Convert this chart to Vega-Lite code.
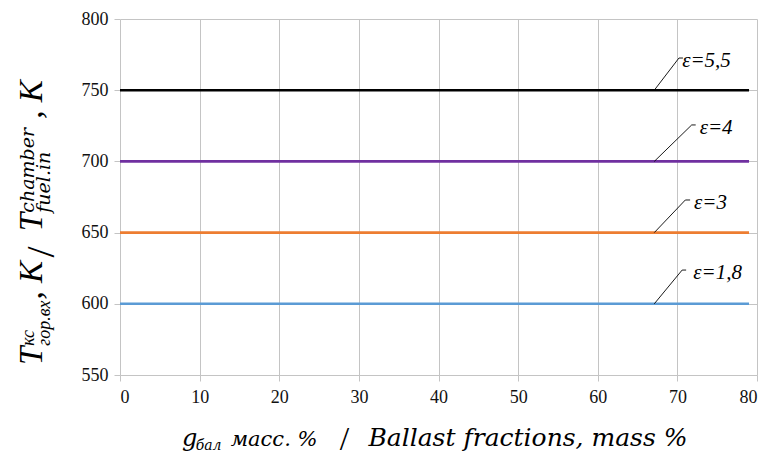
{
  "$schema": "https://vega.github.io/schema/vega-lite/v6.json",
  "width": 637,
  "height": 356,
  "autosize": {"type": "none"},
  "padding": {"left": 120, "top": 19, "right": 11, "bottom": 84},
  "background": "white",
  "config": {
    "view": {"stroke": null},
    "axis": {
      "labelFont": "Times New Roman",
      "labelFontSize": 18,
      "labelColor": "#111111",
      "gridColor": "#c4c4c4",
      "domainColor": "#c4c4c4",
      "tickColor": "#c4c4c4",
      "tickSize": 6
    },
    "text": {"font": "Liberation Serif", "color": "#000000"}
  },
  "layer": [
    {
      "data": {"values": [
        {"eps": "1,8", "x": 0, "T": 600}, {"eps": "1,8", "x": 79, "T": 600},
        {"eps": "3", "x": 0, "T": 650}, {"eps": "3", "x": 79, "T": 650},
        {"eps": "4", "x": 0, "T": 700}, {"eps": "4", "x": 79, "T": 700},
        {"eps": "5,5", "x": 0, "T": 750}, {"eps": "5,5", "x": 79, "T": 750}
      ]},
      "mark": {"type": "line", "strokeWidth": 2.6},
      "encoding": {
        "x": {"field": "x", "type": "quantitative", "scale": {"domain": [0, 80], "nice": false, "zero": false},
              "axis": {"values": [0,10,20,30,40,50,60,70,80], "title": null, "grid": true, "labelPadding": 7, "domain": true,
                       "labelFont": "Times New Roman", "labelFontSize": 18, "labelColor": "#111111"}},
        "y": {"field": "T", "type": "quantitative", "scale": {"domain": [550, 800], "nice": false, "zero": false},
              "axis": {"values": [550,600,650,700,750,800], "title": null, "grid": true, "labelPadding": 6, "domain": false,
                       "labelFont": "Times New Roman", "labelFontSize": 18, "labelColor": "#111111"}},
        "color": {"field": "eps", "type": "nominal", "legend": null,
                  "scale": {"domain": ["1,8","3","4","5,5"], "range": ["#5B9BD5","#ED7D31","#7030A0","#000000"]}},
        "detail": {"field": "eps"}
      }
    },
    {
      "data": {"values": [
        {"eps": "5,5", "x": 67.1, "T": 750}, {"eps": "5,5", "x": 70.2, "T": 772.6}, {"eps": "5,5", "x": 70.7, "T": 772.6},
        {"eps": "4", "x": 67.1, "T": 700}, {"eps": "4", "x": 71.8, "T": 725.6}, {"eps": "4", "x": 72.3, "T": 725.6},
        {"eps": "3", "x": 67.1, "T": 650}, {"eps": "3", "x": 71.0, "T": 672.9}, {"eps": "3", "x": 71.6, "T": 672.9},
        {"eps": "1,8", "x": 67.1, "T": 600}, {"eps": "1,8", "x": 70.6, "T": 623.7}, {"eps": "1,8", "x": 71.1, "T": 623.7}
      ]},
      "mark": {"type": "line", "color": "#000000", "strokeWidth": 0.9},
      "encoding": {
        "x": {"field": "x", "type": "quantitative"},
        "y": {"field": "T", "type": "quantitative"},
        "detail": {"field": "eps"},
        "order": {"field": "x"}
      }
    },
    {
      "data": {"values": [
        {"label": "ε=5,5", "x": 70.6, "T": 770.5},
        {"label": "ε=4", "x": 72.8, "T": 723.5},
        {"label": "ε=3", "x": 72.1, "T": 670.8},
        {"label": "ε=1,8", "x": 72.0, "T": 621.6}
      ]},
      "mark": {"type": "text", "align": "left", "baseline": "middle", "font": "Liberation Serif", "fontStyle": "italic", "fontSize": 21, "color": "#000000"},
      "encoding": {
        "x": {"field": "x", "type": "quantitative"},
        "y": {"field": "T", "type": "quantitative"},
        "text": {"field": "label"}
      }
    },
    {
      "data": {"values": [{}]},
      "mark": {"type": "text", "text": "T", "angle": 270, "align": "left", "baseline": "alphabetic", "font": "Liberation Serif", "fontStyle": "italic", "fontSize": 33, "color": "#000000"},
      "encoding": {"x": {"datum": -9.8, "type": "quantitative"}, "y": {"datum": 557.0, "type": "quantitative"}}
    },
    {
      "data": {"values": [{}]},
      "mark": {"type": "text", "text": "кс", "angle": 270, "align": "left", "baseline": "alphabetic", "font": "Liberation Serif", "fontStyle": "italic", "fontSize": 18, "color": "#000000"},
      "encoding": {"x": {"datum": -10.8, "type": "quantitative"}, "y": {"datum": 570.5, "type": "quantitative"}}
    },
    {
      "data": {"values": [{}]},
      "mark": {"type": "text", "text": "гор.вх", "angle": 270, "align": "left", "baseline": "alphabetic", "font": "Liberation Serif", "fontStyle": "italic", "fontSize": 18, "color": "#000000"},
      "encoding": {"x": {"datum": -8.8, "type": "quantitative"}, "y": {"datum": 570.5, "type": "quantitative"}}
    },
    {
      "data": {"values": [{}]},
      "mark": {"type": "text", "text": ", K", "angle": 270, "align": "left", "baseline": "alphabetic", "font": "Liberation Serif", "fontStyle": "italic", "fontSize": 33, "color": "#000000"},
      "encoding": {"x": {"datum": -9.8, "type": "quantitative"}, "y": {"datum": 603.0, "type": "quantitative"}}
    },
    {
      "data": {"values": [{}]},
      "mark": {"type": "text", "text": "/", "angle": 270, "align": "left", "baseline": "alphabetic", "font": "Liberation Serif", "fontSize": 40, "color": "#000000"},
      "encoding": {"x": {"datum": -8.3, "type": "quantitative"}, "y": {"datum": 632.5, "type": "quantitative"}}
    },
    {
      "data": {"values": [{}]},
      "mark": {"type": "text", "text": "T", "angle": 270, "align": "left", "baseline": "alphabetic", "font": "Liberation Serif", "fontStyle": "italic", "fontSize": 33, "color": "#000000"},
      "encoding": {"x": {"datum": -9.8, "type": "quantitative"}, "y": {"datum": 651.0, "type": "quantitative"}}
    },
    {
      "data": {"values": [{}]},
      "mark": {"type": "text", "text": "chamber", "angle": 270, "align": "left", "baseline": "alphabetic", "font": "DejaVu Serif", "fontStyle": "italic", "fontSize": 19, "color": "#000000"},
      "encoding": {"x": {"datum": -10.8, "type": "quantitative"}, "y": {"datum": 664.0, "type": "quantitative"}}
    },
    {
      "data": {"values": [{}]},
      "mark": {"type": "text", "text": "fuel.in", "angle": 270, "align": "left", "baseline": "alphabetic", "font": "DejaVu Serif", "fontStyle": "italic", "fontSize": 19, "color": "#000000"},
      "encoding": {"x": {"datum": -8.8, "type": "quantitative"}, "y": {"datum": 664.0, "type": "quantitative"}}
    },
    {
      "data": {"values": [{}]},
      "mark": {"type": "text", "text": ", K", "angle": 270, "align": "left", "baseline": "alphabetic", "font": "Liberation Serif", "fontStyle": "italic", "fontSize": 33, "color": "#000000"},
      "encoding": {"x": {"datum": -9.8, "type": "quantitative"}, "y": {"datum": 730.0, "type": "quantitative"}}
    },
    {
      "data": {"values": [{}]},
      "mark": {"type": "text", "text": "g", "align": "left", "baseline": "alphabetic", "font": "DejaVu Serif", "fontStyle": "italic", "fontSize": 24, "color": "#000000"},
      "encoding": {"x": {"datum": 7.8, "type": "quantitative"}, "y": {"datum": 500.1, "type": "quantitative"}}
    },
    {
      "data": {"values": [{}]},
      "mark": {"type": "text", "text": "бал", "align": "left", "baseline": "alphabetic", "font": "DejaVu Serif", "fontStyle": "italic", "fontSize": 14, "color": "#000000"},
      "encoding": {"x": {"datum": 9.5, "type": "quantitative"}, "y": {"datum": 497.3, "type": "quantitative"}}
    },
    {
      "data": {"values": [{}]},
      "mark": {"type": "text", "text": "масс. %", "align": "left", "baseline": "alphabetic", "font": "DejaVu Serif", "fontStyle": "italic", "fontSize": 21, "color": "#000000"},
      "encoding": {"x": {"datum": 13.9, "type": "quantitative"}, "y": {"datum": 500.1, "type": "quantitative"}}
    },
    {
      "data": {"values": [{}]},
      "mark": {"type": "text", "text": "/", "align": "left", "baseline": "alphabetic", "font": "Liberation Serif", "fontSize": 34, "color": "#000000"},
      "encoding": {"x": {"datum": 27.6, "type": "quantitative"}, "y": {"datum": 497.3, "type": "quantitative"}}
    },
    {
      "data": {"values": [{}]},
      "mark": {"type": "text", "text": "Ballast fractions, mass %", "align": "left", "baseline": "alphabetic", "font": "DejaVu Serif", "fontStyle": "italic", "fontSize": 25, "color": "#000000"},
      "encoding": {"x": {"datum": 31.2, "type": "quantitative"}, "y": {"datum": 500.1, "type": "quantitative"}}
    }
  ]
}
